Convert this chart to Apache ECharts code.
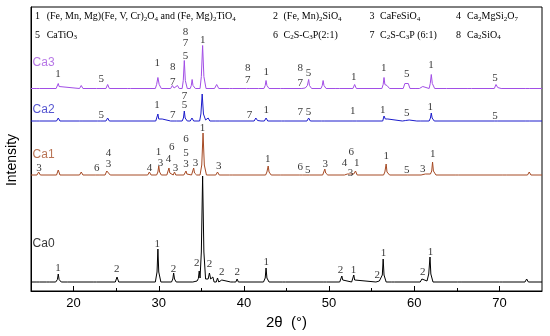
<!DOCTYPE html>
<html><head><meta charset="utf-8">
<script src="https://cdn.jsdelivr.net/npm/echarts@6/dist/echarts.min.js"></script>
<style>html,body{margin:0;padding:0;background:#fff}#c{width:550px;height:336px}</style>
</head><body><div id="c"></div>
<script>
// ---- data: [2θ, intensity above baseline] ----
const seriesNames = ['Ca0', 'Ca1', 'Ca2', 'Ca3'];
const offsets = [9, 116, 170, 202.5];
const xTickLabels = [20, 30, 40, 50, 60, 70];
const xMinorTicks = [25, 35, 45, 55, 65];

const ca0 = [
[15,0],[15.6,0],[15.8,1],[16.0,0],[16.8,0],[17.0,1],[17.2,0],
[17.9,0],[18.1,2.5],[18.2,8],[18.3,2.5],[18.55,0],
[19.3,0],[19.5,2],[19.7,0],
[22.3,0],[22.5,1],[22.7,0],
[24.9,0],[25.1,5],[25.3,0],
[29.6,0],[29.8,10],[29.9,33],[30.0,10],[30.25,0],
[31.5,0],[31.65,3],[31.75,9],[31.85,3],[32.05,0],
[34.0,0],[34.5,1],[34.65,3.5],[34.75,11],[34.85,4],
[35.0,30],[35.15,106],[35.3,30],[35.5,3],
[35.8,3],[35.95,9],[36.1,3],[36.2,2],[36.35,5],[36.5,0],
[36.75,0],[36.9,4],[37.05,0],[37.25,0],[37.4,2],[37.55,0],
[38.45,0],[38.6,1],[38.75,0],[39.05,0],[39.2,3],[39.35,0],
[42.3,0],[42.5,4],[42.6,14],[42.7,4],[42.95,0],
[44.5,0],[44.7,1],[44.9,0],
[49.3,0],[49.5,1],[49.7,0],
[51.25,0],[51.4,2],[51.5,6],[51.6,2],[51.8,0],
[52.65,0],[52.8,2],[52.9,7],[53.0,2],[53.2,0],
[55.5,0],[55.7,2],[55.9,1],[56.05,0.5],[56.25,7],[56.35,23],[56.45,7],[56.7,0],
[57.3,0],[57.5,1],[57.7,0],
[60.7,0],[60.9,3],[61.1,1],[61.5,1],[61.7,8],[61.85,25],[61.95,8],[62.2,0],
[65.1,0],[65.3,1],[65.5,0],
[70.0,0],[70.2,2],[70.4,0],
[73.0,0],[73.2,3],[73.4,0],[75,0]
];
const ca1 = [
[15,0],[15.7,0],[15.9,3],[16.1,0],
[18.0,0],[18.2,5],[18.4,0],
[20.7,0],[20.9,3],[21.1,0],
[22.6,0],[22.8,2],[23.0,0],
[23.7,0],[23.9,4],[24.05,5],[24.3,0],
[28.7,0],[28.9,3],[29.1,0],
[29.75,0],[29.9,3],[30.0,9],[30.1,3],[30.3,0],
[30.95,0],[31.1,2],[31.2,7],[31.3,2],[31.5,0],
[31.7,0],[31.85,3],[32.0,0],
[32.95,0],[33.1,2],[33.2,4],[33.3,1],[33.5,0],
[33.85,0],[34.0,2],[34.1,7],[34.2,2],[34.45,0],
[34.85,0],[35.05,10],[35.2,42],[35.35,10],[35.6,0],
[36.7,0],[36.9,3],[37.1,0],
[38.3,0],[38.5,1],[38.7,0],
[42.55,0],[42.7,3],[42.85,9],[42.95,3],[43.2,0],
[44.3,0],[44.5,1],[44.7,0],
[46.5,0],[46.7,1],[46.9,0],[47.3,0],[47.5,1],[47.7,0],
[49.25,0],[49.4,2],[49.5,6],[49.6,2],[49.85,0],
[51.8,0],[52.0,2],[52.15,1],[52.35,2],[52.5,1],[52.9,1],[53.1,4],[53.3,0],
[56.4,0],[56.55,3],[56.7,11],[56.8,3],[57.1,0],
[58.8,0],[59.0,1],[59.2,0],
[60.8,0],[61.0,2],[61.3,1],[61.9,1],[62.05,4],[62.15,13],[62.25,4],[62.55,0],
[64.8,0],[65.0,1],[65.2,0],
[70.4,0],[70.6,1],[70.8,0],
[73.3,0],[73.5,3],[73.7,0],[75,0]
];
const ca2 = [
[15,0],[15.6,0],[15.8,2],[16.0,0],
[18.0,0],[18.2,3],[18.4,0],
[20.7,0],[20.9,2],[21.1,0],
[22.8,0],[23.0,1],[23.2,0],
[23.8,0],[24.0,3],[24.2,0],
[29.65,0],[29.8,2],[29.9,7],[30.0,2],[30.2,1],[30.4,2],[30.6,0],
[31.4,0],[31.6,2],[31.8,0],[32.1,0],[32.3,2],[32.5,0],
[32.75,0],[32.9,3],[33.0,10],[33.1,3],[33.35,0],
[33.7,0],[33.9,3],[34.1,0],
[34.8,0],[34.95,7],[35.1,27],[35.25,7],[35.5,1],[35.8,3],[36.0,0],
[36.7,0],[36.9,2],[37.1,0],
[41.2,0],[41.4,3],[41.6,0.5],[41.8,2],[42.0,0],
[42.4,0],[42.6,3],[42.8,0],
[44.4,0],[44.6,1],[44.8,0],
[47.4,0],[47.6,3],[47.8,0],
[49.1,0],[49.3,2],[49.5,0],
[52.8,0],[53.0,2],[53.2,0],
[56.3,0],[56.45,5],[56.6,2],[56.9,2],[57.1,0],
[58.6,0],[58.8,2],[59.0,0.5],[59.4,1],[59.6,0],
[60.3,0],[60.5,1],[60.7,0],
[61.75,0],[61.9,3],[62.0,8],[62.1,3],[62.35,0],
[69.4,0],[69.6,1],[69.8,0],
[73.1,0],[73.3,1],[73.5,0],[75,0]
];
const ca3 = [
[15,0],[15.6,0],[15.8,2],[16.0,0],
[17.95,0],[18.1,2],[18.2,5],[18.3,2],[18.5,0],
[20.7,0],[20.9,3],[21.1,0],
[22.7,0],[22.9,2],[23.1,0],
[23.8,0],[24.0,4],[24.2,0],
[26.3,0],[26.5,1],[26.7,0],
[29.6,0],[29.75,4],[29.9,11],[30.05,4],[30.3,0],
[31.4,0],[31.6,3],[31.8,0.5],[32.0,0.5],[32.2,3],[32.4,0],
[32.75,0],[32.88,8],[33.0,28],[33.12,8],[33.35,0],
[33.7,0],[33.82,3],[33.92,9],[34.02,3],[34.3,0],
[34.85,0],[35.0,12],[35.15,43],[35.3,12],[35.55,0],
[36.55,0],[36.8,4],[37.05,0],
[38.3,0],[38.5,1],[38.7,0],
[40.3,0],[40.5,2],[40.7,0],[41.3,0],[41.5,1],[41.7,0],
[42.35,0],[42.5,3],[42.6,8],[42.7,3],[42.95,0],
[44.3,0],[44.5,1],[44.7,0],
[46.8,0],[47.0,2],[47.2,0.5],[47.45,3],[47.6,9],[47.7,3],[47.95,0],
[49.05,0],[49.2,3],[49.3,8],[49.4,3],[49.65,0],
[50.8,0],[51.0,1],[51.2,0],
[52.8,0],[53.0,4],[53.2,0],
[56.2,0],[56.35,4],[56.45,11],[56.55,4],[56.8,3],[57.1,0],
[58.7,0],[58.9,5],[59.1,3],[59.3,5],[59.5,0],
[60.2,0],[60.4,2],[60.6,0],[60.8,0],[61.0,2],[61.2,0],
[61.75,0],[61.88,5],[62.0,14],[62.12,5],[62.4,0],
[63.8,0],[64.0,1],[64.2,0],
[66.3,0],[66.5,1],[66.7,0],
[69.4,0],[69.6,4],[69.8,1],[70.0,1],[70.2,0],
[73.1,0],[73.3,2],[73.5,0],[75,0]
];

// ---- peak annotations: [2θ, plotted level, phase number] ----
const labels0 = [
[18.16,22.7,'1'],[25.08,21.7,'2'],[29.82,46.7,'1'],[31.74,21.7,'2'],[34.47,27.7,'2'],
[35.96,27,'2'],[37.41,19.3,'2'],[39.21,19.3,'2'],[42.62,29.3,'1'],[51.34,21,'2'],
[52.86,21,'1'],[55.65,16,'2'],[56.39,37.7,'1'],[61.0,18.7,'2'],[61.9,39.3,'1']
];
const labels1 = [
[15.93,122.7,'3'],[22.73,123.3,'6'],[24.11,137.7,'4'],[24.11,126.7,'3'],[28.92,123.3,'4'],
[29.98,138.7,'1'],[30.21,127.7,'3'],[31.54,144.3,'6'],[31.15,131.7,'4'],[31.97,123.3,'3'],
[33.2,152,'6'],[33.2,138.3,'5'],[33.2,127,'3'],[34.32,127.5,'3'],[35.14,163,'1'],
[37.04,125,'3'],[42.8,131.7,'1'],[46.61,124.3,'6'],[47.5,121,'5'],[49.54,126.7,'3'],
[52.59,138.7,'6'],[51.81,127.7,'4'],[52.51,118.3,'3'],[53.25,127.7,'1'],[56.7,135.3,'1'],
[59.12,121,'5'],[61.0,121.7,'3'],[62.17,136.7,'1']
];
const labels2 = [
[23.25,176,'5'],[29.78,186,'1'],[31.65,176,'7'],[33.03,195,'7'],[33.03,185.5,'5'],
[40.66,176,'7'],[42.62,181,'1'],[46.61,179.3,'7'],[47.58,179.3,'5'],[52.78,180.3,'1'],
[56.3,181,'1'],[59.12,178.3,'5'],[61.87,184.3,'1'],[69.49,175,'5']
];
const labels3 = [
[18.16,216.7,'1'],[23.25,211.7,'5'],[29.82,227.7,'1'],[31.65,224.3,'8'],[31.65,208.7,'7'],
[33.15,259.3,'8'],[33.15,247.7,'7'],[33.15,235,'5'],[35.18,251,'1'],[40.46,222.7,'8'],
[40.46,211,'7'],[42.62,219.3,'1'],[46.61,222.7,'8'],[46.61,207.7,'7'],[47.58,217.7,'5'],
[52.9,213.7,'1'],[56.42,222.7,'1'],[59.12,216.7,'5'],[61.98,226,'1'],[69.49,213.3,'5']
];
// sample name labels: [2θ, level]
const nameSpots = [[15.42,47],[15.42,136],[15.42,181.7],[15.42,228]];

// phase key
const keyNums = ['1','2','3','4','5','6','7','8'];
const keyNames = [
'(Fe, Mn, Mg)(Fe, V, Cr){s|2}O{s|4} and (Fe, Mg){s|2}TiO{s|4}',
'(Fe, Mn){s|2}SiO{s|4}',
'CaFeSiO{s|4}',
'Ca{s|2}MgSi{s|2}O{s|7}',
'CaTiO{s|3}',
'C{s|2}S-C{s|3}P(2:1)',
'C{s|2}S-C{s|3}P (6:1)',
'Ca{s|2}SiO{s|4}'
];

const colors = ['#000000', '#a64a24', '#1c1ccc', '#a24ee6'];
const nameColors = ['#000000', '#a8512a', '#2a2ac4', '#a555e0'];

const chart = echarts.init(document.getElementById('c'), null, {renderer: 'canvas'});

const serif = '"Liberation Serif", "Times New Roman", serif';
const sans = '"Liberation Sans", Arial, sans-serif';

const series = [];
[ca0, ca1, ca2, ca3].forEach((arr, i) => {
  series.push({
    type: 'line', name: seriesNames[i], showSymbol: false, symbol: 'none',
    data: arr.map(p => [p[0], p[1] + offsets[i]]),
    lineStyle: {width: 1, color: colors[i]}, itemStyle: {color: colors[i]},
    z: 2 + i, silent: true, animation: false
  });
});
[labels0, labels1, labels2, labels3].forEach((arr, i) => {
  series.push({
    type: 'scatter', symbolSize: 0, data: arr, silent: true, z: 10,
    encode: {x: 0, y: 1},
    label: {show: true, position: 'inside', formatter: p => p.data[2],
      color: '#000', fontFamily: serif, fontSize: 11}
  });
});
series.push({
  type: 'scatter', symbolSize: 0, silent: true, z: 10,
  data: nameSpots.map((p, i) => ({value: p, name: seriesNames[i],
    label: {color: nameColors[i]}})),
  label: {show: true, position: 'right', distance: 0, formatter: p => p.name,
    fontFamily: sans, fontSize: 12, align: 'left', verticalAlign: 'middle', offset: [-2, 0]}
});

const keyX = [[35, 46.7], [273, 283.5], [369.5, 380], [456, 467]];
const keyY = [16.5, 35];
const graphic = [];
keyNums.forEach((n, i) => {
  const col = i % 4, row = Math.floor(i / 4);
  graphic.push({type: 'text', x: keyX[col][0], y: keyY[row], silent: true,
    style: {text: n, fill: '#000', font: '10px ' + serif, textAlign: 'left', textVerticalAlign: 'middle'}});
  graphic.push({type: 'text', x: keyX[col][1], y: keyY[row], silent: true,
    style: {text: keyNames[i], fill: '#000', font: '10px ' + serif, textAlign: 'left',
      textVerticalAlign: 'middle', lineHeight: 12,
      rich: {s: {fontSize: 7, fontFamily: serif, verticalAlign: 'bottom', lineHeight: 7, fill: '#000'}}}});
});
graphic.push({type: 'text', x: 12, y: 160, rotation: Math.PI / 2, silent: true,
  style: {text: 'Intensity', fill: '#000', font: '14px ' + sans, textAlign: 'center', textVerticalAlign: 'middle'}});

chart.setOption({
  animation: false,
  backgroundColor: '#fff',
  grid: {left: 31, right: 8, top: 7, bottom: 45, show: true, borderColor: '#000', borderWidth: 1},
  xAxis: [{
    type: 'value', min: 15, max: 75,
    name: '2θ  (°)', nameLocation: 'middle', nameGap: 17,
    nameTextStyle: {fontFamily: sans, fontSize: 15, color: '#000'},
    axisLine: {show: true, lineStyle: {color: '#000', width: 1}},
    axisTick: {show: true, inside: true, length: 5, customValues: xTickLabels, lineStyle: {color: '#000'}},
    axisLabel: {show: true, customValues: xTickLabels, margin: 6, fontFamily: sans, fontSize: 13, color: '#000'},
    splitLine: {show: false}
  }, {
    type: 'value', min: 15, max: 75, position: 'bottom',
    axisLine: {show: false},
    axisTick: {show: true, inside: true, length: 3, customValues: xMinorTicks, lineStyle: {color: '#000'}},
    axisLabel: {show: false}, splitLine: {show: false}
  }],
  yAxis: {
    type: 'value', min: 0, max: 284,
    axisLine: {show: true, lineStyle: {color: '#000', width: 1}},
    axisTick: {show: false}, axisLabel: {show: false}, splitLine: {show: false}
  },
  graphic: graphic,
  series: series
});
</script>
</body></html>
